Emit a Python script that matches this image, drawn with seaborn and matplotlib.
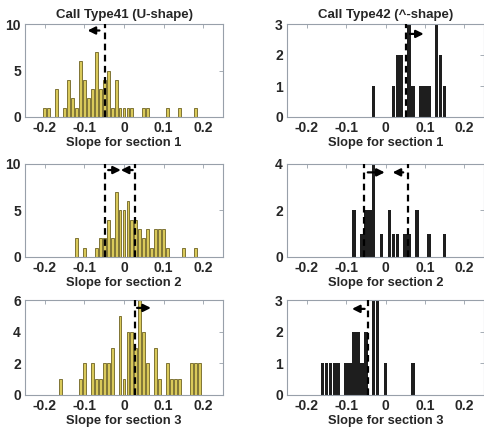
import numpy as np
import pandas as pd
import matplotlib
matplotlib.use("Agg")
import matplotlib.pyplot as plt
import seaborn as sns

sns.set_style("white")
plt.rcParams['font.family'] = ['Liberation Sans', 'DejaVu Sans']
plt.rcParams['font.weight'] = 'bold'

# ---- data: bin centres (slope) and counts ----
t41_s1_x = [-0.20, -0.19, -0.17, -0.15, -0.14, -0.13, -0.12, -0.11, -0.10, -0.09, -0.08, -0.07, -0.06,
            -0.05, -0.04, -0.03, -0.02, -0.01, 0.00, 0.01, 0.02, 0.05, 0.06, 0.11, 0.14, 0.18]
t41_s1_n = [1, 1, 3, 1, 4, 2, 1, 6, 4, 2, 3, 7, 3, 4, 5, 1, 4, 1, 1, 1, 1, 1, 1, 1, 1, 1]

t42_s1_x = [-0.03, 0.02, 0.03, 0.04, 0.06, 0.07, 0.09, 0.10, 0.11, 0.13, 0.14, 0.15]
t42_s1_n = [1, 1, 2, 2, 3, 1, 1, 1, 1, 3, 2, 1]

t41_s2_x = [-0.12, -0.10, -0.07, -0.06, -0.05, -0.04, -0.03, -0.02, -0.01, 0.00, 0.01, 0.02, 0.03,
            0.04, 0.05, 0.06, 0.07, 0.08, 0.09, 0.10, 0.11, 0.15, 0.18]
t41_s2_n = [2, 1, 1, 2, 2, 4, 2, 7, 5, 5, 6, 4, 4, 3, 2, 3, 1, 3, 3, 3, 1, 1, 1]

t42_s2_x = [-0.08, -0.06, -0.05, -0.04, -0.03, -0.01, 0.01, 0.02, 0.03, 0.05, 0.06, 0.08, 0.11, 0.15]
t42_s2_n = [2, 1, 2, 2, 4, 1, 2, 1, 1, 1, 1, 2, 1, 1]

t41_s3_x = [-0.16, -0.11, -0.10, -0.08, -0.07, -0.06, -0.05, -0.04, -0.03, -0.01, 0.00, 0.01, 0.02,
            0.03, 0.04, 0.05, 0.06, 0.08, 0.09, 0.11, 0.12, 0.13, 0.14, 0.17, 0.18, 0.19]
t41_s3_n = [1, 1, 2, 2, 1, 1, 2, 2, 3, 5, 1, 4, 4, 3, 6, 4, 2, 3, 1, 2, 1, 1, 1, 2, 2, 2]

t42_s3_x = [-0.16, -0.15, -0.14, -0.13, -0.12, -0.10, -0.09, -0.08, -0.07, -0.06, -0.05,
            -0.03, -0.02, 0.00, 0.07]
t42_s3_n = [1, 1, 1, 1, 1, 1, 1, 2, 2, 1, 2, 3, 3, 1, 1]

titles = ["Call Type41 (U-shape)", "Call Type42 (^-shape)"]
xlabels = ["Slope for section 1", "Slope for section 2", "Slope for section 3"]
xticks = [-0.2, -0.1, 0, 0.1, 0.2]
xticklabels = ["-0.2", "-0.1", "0", "0.1", "0.2"]
yticks = [[0, 5, 10], [0, 1, 2, 3], [0, 5, 10], [0, 2, 4], [0, 2, 4, 6], [0, 1, 2, 3]]

# dashed marker lines and arrows (x of line; arrow tail x, tip x, y)
vlines = [[-0.049], [0.052], [-0.048, 0.027], [-0.055, 0.056], [0.028], [-0.045]]
arrows = [[(-0.062, -0.092, 9.3)],
          [(0.062, 0.097, 2.68)],
          [(-0.04, -0.008, 9.3), (0.022, -0.008, 9.3)],
          [(-0.045, -0.002, 3.62), (0.045, 0.018, 3.62)],
          [(0.033, 0.068, 5.5)],
          [(-0.053, -0.085, 2.72)]]

data = [(t41_s1_x, t41_s1_n), (t42_s1_x, t42_s1_n),
        (t41_s2_x, t41_s2_n), (t42_s2_x, t42_s2_n),
        (t41_s3_x, t41_s3_n), (t42_s3_x, t42_s3_n)]

W, H = 484, 429
fig = plt.figure(figsize=(W / 100, H / 100), dpi=100)

lefts = [25, 287]
widths = [198, 197]
row_top = [24, 163.5, 300]
row_bot = [117, 257, 395]

spine_col = "#98a0aa"

for i, (xs, ns) in enumerate(data):
    r, c = divmod(i, 2)
    ax = fig.add_axes([lefts[c] / W, 1 - row_bot[r] / H, widths[c] / W, (row_bot[r] - row_top[r]) / H])
    df = pd.DataFrame({"slope": xs, "count": ns})
    if c == 0:
        sns.histplot(data=df, x="slope", weights="count", binwidth=0.01, binrange=(-0.255, 0.255),
                     shrink=0.72, color="#d9c95a",
                     edgecolor="#6e6322", linewidth=0.6, alpha=1, ax=ax)
    else:
        sns.histplot(data=df, x="slope", weights="count", binwidth=0.01, binrange=(-0.255, 0.255),
                     shrink=0.9, color="#1e1e1e",
                     edgecolor="none", linewidth=0, alpha=1, ax=ax)
    ymax = yticks[i][-1]
    ax.set_xlim(-0.25, 0.25)
    ax.set_ylim(0, ymax)
    ax.set_xticks(xticks)
    ax.set_xticklabels(xticklabels)
    ax.set_yticks(yticks[i])
    ax.set_ylabel("")
    ax.set_xlabel(xlabels[r], fontsize=9.3, fontweight='bold', labelpad=1)
    ax.tick_params(direction='in', length=3, width=0.6, color=spine_col, top=True, right=True,
                   labelsize=10, pad=3)
    for lab in ax.get_xticklabels() + ax.get_yticklabels():
        lab.set_fontweight('bold')
    for s in ax.spines.values():
        s.set_color(spine_col)
        s.set_linewidth(0.8)
    for xv in vlines[i]:
        ax.plot([xv, xv], [0, ymax], color='k', lw=1.6, ls=(0, (3, 2)), zorder=5, clip_on=False)
    for (x0, x1, yv) in arrows[i]:
        ax.annotate('', xy=(x1, yv), xytext=(x0, yv),
                    arrowprops=dict(arrowstyle='-|>', color='k', lw=1.6, mutation_scale=11,
                                    shrinkA=0, shrinkB=0), zorder=6)
    if r == 0:
        ax.set_title(titles[c], fontsize=9.5, fontweight='bold', pad=4)

fig.savefig("out.png", dpi=100)
